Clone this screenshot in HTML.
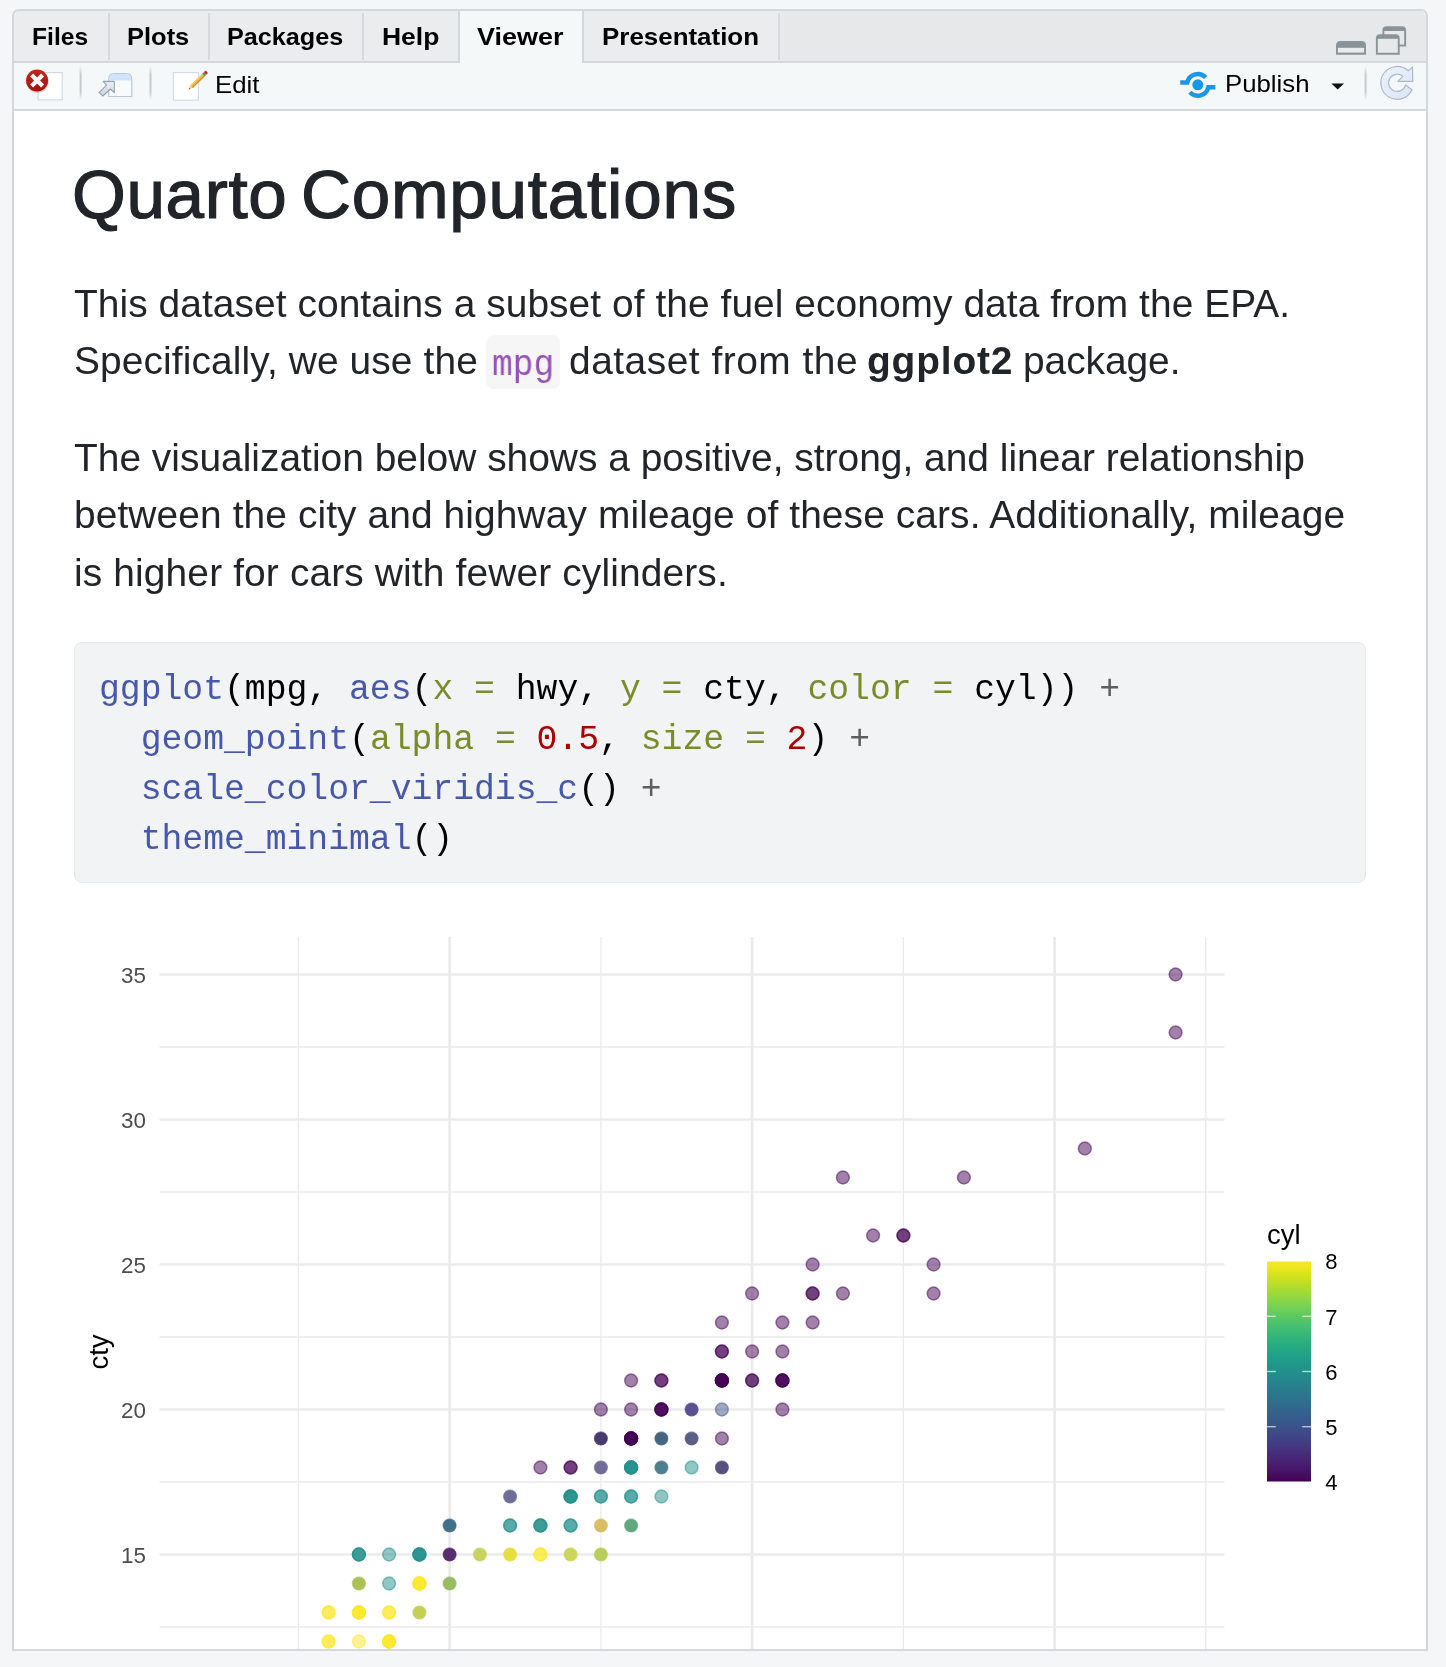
<!DOCTYPE html>
<html lang="en"><head><meta charset="utf-8"><title>Quarto Computations</title>
<style>
html,body{margin:0;padding:0}
body{width:1446px;height:1667px;background:#f5f6f8;position:relative;overflow:hidden;font-family:"Liberation Sans",sans-serif}
.frame{position:absolute;left:12px;top:9px;width:1416px;height:1642px;box-sizing:border-box;border:2px solid #d3d8db;border-radius:7px 7px 0 0;background:#fff;overflow:hidden}
.tabbar{position:absolute;left:14px;top:11px;width:1412px;height:50px;background:#e7e8ea;border-radius:5px 5px 0 0}
.tabline{position:absolute;left:14px;top:61px;width:1412px;height:2px;background:#d3d8db}
.tab{position:absolute;top:11px;height:50px;background:#ebecee;border-radius:5px 0 0 0}
.tsep{position:absolute;top:13px;width:2px;height:47px;background:#d5d9dc}
.tabsel{position:absolute;left:458px;top:11px;width:126px;height:52px;box-sizing:border-box;background:#f4f8f9;border-left:2px solid #d3d8db;border-right:2px solid #d3d8db}
.toolbar{position:absolute;left:14px;top:63px;width:1412px;height:46px;background:#f4f8f9}
.toolline{position:absolute;left:14px;top:109px;width:1412px;height:2px;background:#d3d8db}
.content{position:absolute;left:14px;top:111px;width:1412px;height:1538px;background:#fff;overflow:hidden}
.tx{position:absolute;white-space:nowrap;margin:0;padding:0;will-change:transform}
.icons{position:absolute;left:0;top:0}
.chartwrap{position:absolute;left:0;top:0;width:1446px;height:1649px;overflow:hidden;will-change:transform}
.chart{position:absolute;left:0;top:0}
.inlinecode{position:absolute;left:486px;top:335.2px;width:74px;height:53.4px;background:#f6f6f6;border-radius:8px}
.codebox{position:absolute;left:74px;top:641.5px;width:1292px;height:241px;box-sizing:border-box;background:#f2f3f5;border:1.5px solid #e6e8ea;border-radius:8px}
.cl{position:absolute;margin:0;padding:0;white-space:pre;will-change:transform;font-family:"Liberation Mono",monospace;font-size:34.72px;color:#000}
</style></head>
<body>
<div class="frame"></div>
<div class="tabbar"></div>
<div class="tab" style="left:14px;width:766px"></div>
<div class="tsep" style="left:108px"></div>
<div class="tsep" style="left:208px"></div>
<div class="tsep" style="left:362px"></div>
<div class="tsep" style="left:778px"></div>
<div class="tabline"></div>
<div class="tabsel"></div>
<div class="toolbar"></div>
<div class="toolline"></div>
<div class="content"></div>
<div class="inlinecode"></div>
<div class="chartwrap">
<svg class="chart" width="1446" height="1667" viewBox="0 0 1446 1667">
<line x1="159.5" x2="1224.5" y1="1047.0" y2="1047.0" stroke="#ebebeb" stroke-width="1.3"/>
<line x1="159.5" x2="1224.5" y1="1192.0" y2="1192.0" stroke="#ebebeb" stroke-width="1.3"/>
<line x1="159.5" x2="1224.5" y1="1337.0" y2="1337.0" stroke="#ebebeb" stroke-width="1.3"/>
<line x1="159.5" x2="1224.5" y1="1482.0" y2="1482.0" stroke="#ebebeb" stroke-width="1.3"/>
<line x1="159.5" x2="1224.5" y1="1627.0" y2="1627.0" stroke="#ebebeb" stroke-width="1.3"/>
<line y1="937" y2="1700" x1="298.4" x2="298.4" stroke="#ebebeb" stroke-width="1.3"/>
<line y1="937" y2="1700" x1="600.9" x2="600.9" stroke="#ebebeb" stroke-width="1.3"/>
<line y1="937" y2="1700" x1="903.4" x2="903.4" stroke="#ebebeb" stroke-width="1.3"/>
<line y1="937" y2="1700" x1="1205.8" x2="1205.8" stroke="#ebebeb" stroke-width="1.3"/>
<line x1="159.5" x2="1224.5" y1="974.5" y2="974.5" stroke="#ebebeb" stroke-width="2.7"/>
<line x1="159.5" x2="1224.5" y1="1119.5" y2="1119.5" stroke="#ebebeb" stroke-width="2.7"/>
<line x1="159.5" x2="1224.5" y1="1264.5" y2="1264.5" stroke="#ebebeb" stroke-width="2.7"/>
<line x1="159.5" x2="1224.5" y1="1409.5" y2="1409.5" stroke="#ebebeb" stroke-width="2.7"/>
<line x1="159.5" x2="1224.5" y1="1554.5" y2="1554.5" stroke="#ebebeb" stroke-width="2.7"/>
<line y1="937" y2="1700" x1="449.6" x2="449.6" stroke="#ebebeb" stroke-width="2.7"/>
<line y1="937" y2="1700" x1="752.1" x2="752.1" stroke="#ebebeb" stroke-width="2.7"/>
<line y1="937" y2="1700" x1="1054.6" x2="1054.6" stroke="#ebebeb" stroke-width="2.7"/>
<circle cx="1175.6" cy="974.5" r="6.4" fill="rgb(68,1,84)" fill-opacity="0.5" stroke="rgb(68,1,84)" stroke-opacity="0.5" stroke-width="1.5"/>
<circle cx="1175.6" cy="1032.5" r="6.4" fill="rgb(68,1,84)" fill-opacity="0.5" stroke="rgb(68,1,84)" stroke-opacity="0.5" stroke-width="1.5"/>
<circle cx="1084.8" cy="1148.5" r="6.4" fill="rgb(68,1,84)" fill-opacity="0.5" stroke="rgb(68,1,84)" stroke-opacity="0.5" stroke-width="1.5"/>
<circle cx="963.9" cy="1177.5" r="6.4" fill="rgb(68,1,84)" fill-opacity="0.5" stroke="rgb(68,1,84)" stroke-opacity="0.5" stroke-width="1.5"/>
<circle cx="842.9" cy="1177.5" r="6.4" fill="rgb(68,1,84)" fill-opacity="0.5" stroke="rgb(68,1,84)" stroke-opacity="0.5" stroke-width="1.5"/>
<circle cx="903.4" cy="1235.5" r="6.4" fill="rgb(68,1,84)" fill-opacity="0.5" stroke="rgb(68,1,84)" stroke-opacity="0.5" stroke-width="1.5"/>
<circle cx="903.4" cy="1235.5" r="6.4" fill="rgb(68,1,84)" fill-opacity="0.5" stroke="rgb(68,1,84)" stroke-opacity="0.5" stroke-width="1.5"/>
<circle cx="873.1" cy="1235.5" r="6.4" fill="rgb(68,1,84)" fill-opacity="0.5" stroke="rgb(68,1,84)" stroke-opacity="0.5" stroke-width="1.5"/>
<circle cx="933.6" cy="1264.5" r="6.4" fill="rgb(68,1,84)" fill-opacity="0.5" stroke="rgb(68,1,84)" stroke-opacity="0.5" stroke-width="1.5"/>
<circle cx="812.6" cy="1264.5" r="6.4" fill="rgb(68,1,84)" fill-opacity="0.5" stroke="rgb(68,1,84)" stroke-opacity="0.5" stroke-width="1.5"/>
<circle cx="933.6" cy="1293.5" r="6.4" fill="rgb(68,1,84)" fill-opacity="0.5" stroke="rgb(68,1,84)" stroke-opacity="0.5" stroke-width="1.5"/>
<circle cx="842.9" cy="1293.5" r="6.4" fill="rgb(68,1,84)" fill-opacity="0.5" stroke="rgb(68,1,84)" stroke-opacity="0.5" stroke-width="1.5"/>
<circle cx="812.6" cy="1293.5" r="6.4" fill="rgb(68,1,84)" fill-opacity="0.5" stroke="rgb(68,1,84)" stroke-opacity="0.5" stroke-width="1.5"/>
<circle cx="812.6" cy="1293.5" r="6.4" fill="rgb(68,1,84)" fill-opacity="0.5" stroke="rgb(68,1,84)" stroke-opacity="0.5" stroke-width="1.5"/>
<circle cx="752.1" cy="1293.5" r="6.4" fill="rgb(68,1,84)" fill-opacity="0.5" stroke="rgb(68,1,84)" stroke-opacity="0.5" stroke-width="1.5"/>
<circle cx="812.6" cy="1322.5" r="6.4" fill="rgb(68,1,84)" fill-opacity="0.5" stroke="rgb(68,1,84)" stroke-opacity="0.5" stroke-width="1.5"/>
<circle cx="782.4" cy="1322.5" r="6.4" fill="rgb(68,1,84)" fill-opacity="0.5" stroke="rgb(68,1,84)" stroke-opacity="0.5" stroke-width="1.5"/>
<circle cx="721.9" cy="1322.5" r="6.4" fill="rgb(68,1,84)" fill-opacity="0.5" stroke="rgb(68,1,84)" stroke-opacity="0.5" stroke-width="1.5"/>
<circle cx="782.4" cy="1351.5" r="6.4" fill="rgb(68,1,84)" fill-opacity="0.5" stroke="rgb(68,1,84)" stroke-opacity="0.5" stroke-width="1.5"/>
<circle cx="752.1" cy="1351.5" r="6.4" fill="rgb(68,1,84)" fill-opacity="0.5" stroke="rgb(68,1,84)" stroke-opacity="0.5" stroke-width="1.5"/>
<circle cx="721.9" cy="1351.5" r="6.4" fill="rgb(68,1,84)" fill-opacity="0.5" stroke="rgb(68,1,84)" stroke-opacity="0.5" stroke-width="1.5"/>
<circle cx="721.9" cy="1351.5" r="6.4" fill="rgb(68,1,84)" fill-opacity="0.5" stroke="rgb(68,1,84)" stroke-opacity="0.5" stroke-width="1.5"/>
<circle cx="782.4" cy="1380.5" r="6.4" fill="rgb(68,1,84)" fill-opacity="0.5" stroke="rgb(68,1,84)" stroke-opacity="0.5" stroke-width="1.5"/>
<circle cx="782.4" cy="1380.5" r="6.4" fill="rgb(68,1,84)" fill-opacity="0.5" stroke="rgb(68,1,84)" stroke-opacity="0.5" stroke-width="1.5"/>
<circle cx="782.4" cy="1380.5" r="6.4" fill="rgb(68,1,84)" fill-opacity="0.5" stroke="rgb(68,1,84)" stroke-opacity="0.5" stroke-width="1.5"/>
<circle cx="782.4" cy="1380.5" r="6.4" fill="rgb(68,1,84)" fill-opacity="0.5" stroke="rgb(68,1,84)" stroke-opacity="0.5" stroke-width="1.5"/>
<circle cx="752.1" cy="1380.5" r="6.4" fill="rgb(68,1,84)" fill-opacity="0.5" stroke="rgb(68,1,84)" stroke-opacity="0.5" stroke-width="1.5"/>
<circle cx="752.1" cy="1380.5" r="6.4" fill="rgb(68,1,84)" fill-opacity="0.5" stroke="rgb(68,1,84)" stroke-opacity="0.5" stroke-width="1.5"/>
<circle cx="721.9" cy="1380.5" r="6.4" fill="rgb(68,1,84)" fill-opacity="0.5" stroke="rgb(68,1,84)" stroke-opacity="0.5" stroke-width="1.5"/>
<circle cx="721.9" cy="1380.5" r="6.4" fill="rgb(68,1,84)" fill-opacity="0.5" stroke="rgb(68,1,84)" stroke-opacity="0.5" stroke-width="1.5"/>
<circle cx="721.9" cy="1380.5" r="6.4" fill="rgb(68,1,84)" fill-opacity="0.5" stroke="rgb(68,1,84)" stroke-opacity="0.5" stroke-width="1.5"/>
<circle cx="721.9" cy="1380.5" r="6.4" fill="rgb(68,1,84)" fill-opacity="0.5" stroke="rgb(68,1,84)" stroke-opacity="0.5" stroke-width="1.5"/>
<circle cx="721.9" cy="1380.5" r="6.4" fill="rgb(68,1,84)" fill-opacity="0.5" stroke="rgb(68,1,84)" stroke-opacity="0.5" stroke-width="1.5"/>
<circle cx="721.9" cy="1380.5" r="6.4" fill="rgb(68,1,84)" fill-opacity="0.5" stroke="rgb(68,1,84)" stroke-opacity="0.5" stroke-width="1.5"/>
<circle cx="661.4" cy="1380.5" r="6.4" fill="rgb(68,1,84)" fill-opacity="0.5" stroke="rgb(68,1,84)" stroke-opacity="0.5" stroke-width="1.5"/>
<circle cx="661.4" cy="1380.5" r="6.4" fill="rgb(68,1,84)" fill-opacity="0.5" stroke="rgb(68,1,84)" stroke-opacity="0.5" stroke-width="1.5"/>
<circle cx="631.1" cy="1380.5" r="6.4" fill="rgb(68,1,84)" fill-opacity="0.5" stroke="rgb(68,1,84)" stroke-opacity="0.5" stroke-width="1.5"/>
<circle cx="782.4" cy="1409.5" r="6.4" fill="rgb(68,1,84)" fill-opacity="0.5" stroke="rgb(68,1,84)" stroke-opacity="0.5" stroke-width="1.5"/>
<circle cx="721.9" cy="1409.5" r="6.4" fill="rgb(59,82,139)" fill-opacity="0.5" stroke="rgb(59,82,139)" stroke-opacity="0.5" stroke-width="1.5"/>
<circle cx="691.6" cy="1409.5" r="6.6" fill="#5a528f" stroke="#5a528f" stroke-opacity="0.55" stroke-width="1.1"/>
<circle cx="661.4" cy="1409.5" r="6.4" fill="rgb(68,1,84)" fill-opacity="0.5" stroke="rgb(68,1,84)" stroke-opacity="0.5" stroke-width="1.5"/>
<circle cx="661.4" cy="1409.5" r="6.4" fill="rgb(68,1,84)" fill-opacity="0.5" stroke="rgb(68,1,84)" stroke-opacity="0.5" stroke-width="1.5"/>
<circle cx="661.4" cy="1409.5" r="6.4" fill="rgb(68,1,84)" fill-opacity="0.5" stroke="rgb(68,1,84)" stroke-opacity="0.5" stroke-width="1.5"/>
<circle cx="661.4" cy="1409.5" r="6.4" fill="rgb(68,1,84)" fill-opacity="0.5" stroke="rgb(68,1,84)" stroke-opacity="0.5" stroke-width="1.5"/>
<circle cx="631.1" cy="1409.5" r="6.4" fill="rgb(68,1,84)" fill-opacity="0.5" stroke="rgb(68,1,84)" stroke-opacity="0.5" stroke-width="1.5"/>
<circle cx="600.9" cy="1409.5" r="6.4" fill="rgb(68,1,84)" fill-opacity="0.5" stroke="rgb(68,1,84)" stroke-opacity="0.5" stroke-width="1.5"/>
<circle cx="721.9" cy="1438.5" r="6.4" fill="rgb(68,1,84)" fill-opacity="0.5" stroke="rgb(68,1,84)" stroke-opacity="0.5" stroke-width="1.5"/>
<circle cx="691.6" cy="1438.5" r="6.6" fill="#5a6085" stroke="#5a6085" stroke-opacity="0.55" stroke-width="1.1"/>
<circle cx="661.4" cy="1438.5" r="6.6" fill="#466680" stroke="#466680" stroke-opacity="0.55" stroke-width="1.1"/>
<circle cx="631.1" cy="1438.5" r="6.4" fill="rgb(68,1,84)" fill-opacity="0.5" stroke="rgb(68,1,84)" stroke-opacity="0.5" stroke-width="1.5"/>
<circle cx="631.1" cy="1438.5" r="6.4" fill="rgb(68,1,84)" fill-opacity="0.5" stroke="rgb(68,1,84)" stroke-opacity="0.5" stroke-width="1.5"/>
<circle cx="631.1" cy="1438.5" r="6.4" fill="rgb(68,1,84)" fill-opacity="0.5" stroke="rgb(68,1,84)" stroke-opacity="0.5" stroke-width="1.5"/>
<circle cx="631.1" cy="1438.5" r="6.4" fill="rgb(68,1,84)" fill-opacity="0.5" stroke="rgb(68,1,84)" stroke-opacity="0.5" stroke-width="1.5"/>
<circle cx="631.1" cy="1438.5" r="6.4" fill="rgb(68,1,84)" fill-opacity="0.5" stroke="rgb(68,1,84)" stroke-opacity="0.5" stroke-width="1.5"/>
<circle cx="631.1" cy="1438.5" r="6.4" fill="rgb(68,1,84)" fill-opacity="0.5" stroke="rgb(68,1,84)" stroke-opacity="0.5" stroke-width="1.5"/>
<circle cx="600.9" cy="1438.5" r="6.6" fill="#4a3a6e" stroke="#4a3a6e" stroke-opacity="0.55" stroke-width="1.1"/>
<circle cx="721.9" cy="1467.5" r="6.6" fill="#5a5080" stroke="#5a5080" stroke-opacity="0.55" stroke-width="1.1"/>
<circle cx="691.6" cy="1467.5" r="6.4" fill="rgb(33,144,140)" fill-opacity="0.5" stroke="rgb(33,144,140)" stroke-opacity="0.5" stroke-width="1.5"/>
<circle cx="661.4" cy="1467.5" r="6.6" fill="#4f7f8c" stroke="#4f7f8c" stroke-opacity="0.55" stroke-width="1.1"/>
<circle cx="631.1" cy="1467.5" r="6.4" fill="rgb(33,144,140)" fill-opacity="0.5" stroke="rgb(33,144,140)" stroke-opacity="0.5" stroke-width="1.5"/>
<circle cx="631.1" cy="1467.5" r="6.4" fill="rgb(33,144,140)" fill-opacity="0.5" stroke="rgb(33,144,140)" stroke-opacity="0.5" stroke-width="1.5"/>
<circle cx="631.1" cy="1467.5" r="6.4" fill="rgb(33,144,140)" fill-opacity="0.5" stroke="rgb(33,144,140)" stroke-opacity="0.5" stroke-width="1.5"/>
<circle cx="631.1" cy="1467.5" r="6.4" fill="rgb(33,144,140)" fill-opacity="0.5" stroke="rgb(33,144,140)" stroke-opacity="0.5" stroke-width="1.5"/>
<circle cx="631.1" cy="1467.5" r="6.4" fill="rgb(33,144,140)" fill-opacity="0.5" stroke="rgb(33,144,140)" stroke-opacity="0.5" stroke-width="1.5"/>
<circle cx="600.9" cy="1467.5" r="6.6" fill="#706d97" stroke="#706d97" stroke-opacity="0.55" stroke-width="1.1"/>
<circle cx="570.6" cy="1467.5" r="6.4" fill="rgb(68,1,84)" fill-opacity="0.5" stroke="rgb(68,1,84)" stroke-opacity="0.5" stroke-width="1.5"/>
<circle cx="570.6" cy="1467.5" r="6.4" fill="rgb(68,1,84)" fill-opacity="0.5" stroke="rgb(68,1,84)" stroke-opacity="0.5" stroke-width="1.5"/>
<circle cx="540.4" cy="1467.5" r="6.4" fill="rgb(68,1,84)" fill-opacity="0.5" stroke="rgb(68,1,84)" stroke-opacity="0.5" stroke-width="1.5"/>
<circle cx="661.4" cy="1496.5" r="6.4" fill="rgb(33,144,140)" fill-opacity="0.5" stroke="rgb(33,144,140)" stroke-opacity="0.5" stroke-width="1.5"/>
<circle cx="631.1" cy="1496.5" r="6.4" fill="rgb(33,144,140)" fill-opacity="0.5" stroke="rgb(33,144,140)" stroke-opacity="0.5" stroke-width="1.5"/>
<circle cx="631.1" cy="1496.5" r="6.4" fill="rgb(33,144,140)" fill-opacity="0.5" stroke="rgb(33,144,140)" stroke-opacity="0.5" stroke-width="1.5"/>
<circle cx="600.9" cy="1496.5" r="6.4" fill="rgb(33,144,140)" fill-opacity="0.5" stroke="rgb(33,144,140)" stroke-opacity="0.5" stroke-width="1.5"/>
<circle cx="600.9" cy="1496.5" r="6.4" fill="rgb(33,144,140)" fill-opacity="0.5" stroke="rgb(33,144,140)" stroke-opacity="0.5" stroke-width="1.5"/>
<circle cx="570.6" cy="1496.5" r="6.4" fill="rgb(33,144,140)" fill-opacity="0.5" stroke="rgb(33,144,140)" stroke-opacity="0.5" stroke-width="1.5"/>
<circle cx="570.6" cy="1496.5" r="6.4" fill="rgb(33,144,140)" fill-opacity="0.5" stroke="rgb(33,144,140)" stroke-opacity="0.5" stroke-width="1.5"/>
<circle cx="570.6" cy="1496.5" r="6.4" fill="rgb(33,144,140)" fill-opacity="0.5" stroke="rgb(33,144,140)" stroke-opacity="0.5" stroke-width="1.5"/>
<circle cx="570.6" cy="1496.5" r="6.4" fill="rgb(33,144,140)" fill-opacity="0.5" stroke="rgb(33,144,140)" stroke-opacity="0.5" stroke-width="1.5"/>
<circle cx="510.1" cy="1496.5" r="6.6" fill="#6f6c97" stroke="#6f6c97" stroke-opacity="0.55" stroke-width="1.1"/>
<circle cx="631.1" cy="1525.5" r="6.6" fill="#62a87c" stroke="#62a87c" stroke-opacity="0.55" stroke-width="1.1"/>
<circle cx="600.9" cy="1525.5" r="6.6" fill="#d8bf63" stroke="#d8bf63" stroke-opacity="0.55" stroke-width="1.1"/>
<circle cx="570.6" cy="1525.5" r="6.4" fill="rgb(33,144,140)" fill-opacity="0.5" stroke="rgb(33,144,140)" stroke-opacity="0.5" stroke-width="1.5"/>
<circle cx="570.6" cy="1525.5" r="6.4" fill="rgb(33,144,140)" fill-opacity="0.5" stroke="rgb(33,144,140)" stroke-opacity="0.5" stroke-width="1.5"/>
<circle cx="540.4" cy="1525.5" r="6.4" fill="rgb(33,144,140)" fill-opacity="0.5" stroke="rgb(33,144,140)" stroke-opacity="0.5" stroke-width="1.5"/>
<circle cx="540.4" cy="1525.5" r="6.4" fill="rgb(33,144,140)" fill-opacity="0.5" stroke="rgb(33,144,140)" stroke-opacity="0.5" stroke-width="1.5"/>
<circle cx="540.4" cy="1525.5" r="6.4" fill="rgb(33,144,140)" fill-opacity="0.5" stroke="rgb(33,144,140)" stroke-opacity="0.5" stroke-width="1.5"/>
<circle cx="510.1" cy="1525.5" r="6.4" fill="rgb(33,144,140)" fill-opacity="0.5" stroke="rgb(33,144,140)" stroke-opacity="0.5" stroke-width="1.5"/>
<circle cx="510.1" cy="1525.5" r="6.4" fill="rgb(33,144,140)" fill-opacity="0.5" stroke="rgb(33,144,140)" stroke-opacity="0.5" stroke-width="1.5"/>
<circle cx="449.6" cy="1525.5" r="6.6" fill="#42708a" stroke="#42708a" stroke-opacity="0.55" stroke-width="1.1"/>
<circle cx="600.9" cy="1554.5" r="6.6" fill="#b9cf5c" stroke="#b9cf5c" stroke-opacity="0.55" stroke-width="1.1"/>
<circle cx="570.6" cy="1554.5" r="6.6" fill="#cdd65a" stroke="#cdd65a" stroke-opacity="0.55" stroke-width="1.1"/>
<circle cx="540.4" cy="1554.5" r="6.4" fill="rgb(253,231,37)" fill-opacity="0.5" stroke="rgb(253,231,37)" stroke-opacity="0.5" stroke-width="1.5"/>
<circle cx="540.4" cy="1554.5" r="6.4" fill="rgb(253,231,37)" fill-opacity="0.5" stroke="rgb(253,231,37)" stroke-opacity="0.5" stroke-width="1.5"/>
<circle cx="510.1" cy="1554.5" r="6.6" fill="#e5de3f" stroke="#e5de3f" stroke-opacity="0.55" stroke-width="1.1"/>
<circle cx="479.9" cy="1554.5" r="6.6" fill="#c9d45f" stroke="#c9d45f" stroke-opacity="0.55" stroke-width="1.1"/>
<circle cx="449.6" cy="1554.5" r="6.6" fill="#5a2d6e" stroke="#5a2d6e" stroke-opacity="0.55" stroke-width="1.1"/>
<circle cx="419.4" cy="1554.5" r="6.4" fill="rgb(33,144,140)" fill-opacity="0.5" stroke="rgb(33,144,140)" stroke-opacity="0.5" stroke-width="1.5"/>
<circle cx="419.4" cy="1554.5" r="6.4" fill="rgb(33,144,140)" fill-opacity="0.5" stroke="rgb(33,144,140)" stroke-opacity="0.5" stroke-width="1.5"/>
<circle cx="419.4" cy="1554.5" r="6.4" fill="rgb(33,144,140)" fill-opacity="0.5" stroke="rgb(33,144,140)" stroke-opacity="0.5" stroke-width="1.5"/>
<circle cx="419.4" cy="1554.5" r="6.4" fill="rgb(33,144,140)" fill-opacity="0.5" stroke="rgb(33,144,140)" stroke-opacity="0.5" stroke-width="1.5"/>
<circle cx="389.1" cy="1554.5" r="6.4" fill="rgb(33,144,140)" fill-opacity="0.5" stroke="rgb(33,144,140)" stroke-opacity="0.5" stroke-width="1.5"/>
<circle cx="358.9" cy="1554.5" r="6.4" fill="rgb(33,144,140)" fill-opacity="0.5" stroke="rgb(33,144,140)" stroke-opacity="0.5" stroke-width="1.5"/>
<circle cx="358.9" cy="1554.5" r="6.4" fill="rgb(33,144,140)" fill-opacity="0.5" stroke="rgb(33,144,140)" stroke-opacity="0.5" stroke-width="1.5"/>
<circle cx="358.9" cy="1554.5" r="6.4" fill="rgb(33,144,140)" fill-opacity="0.5" stroke="rgb(33,144,140)" stroke-opacity="0.5" stroke-width="1.5"/>
<circle cx="449.6" cy="1583.5" r="6.6" fill="#95bd62" stroke="#95bd62" stroke-opacity="0.55" stroke-width="1.1"/>
<circle cx="419.4" cy="1583.5" r="6.4" fill="rgb(253,231,37)" fill-opacity="0.5" stroke="rgb(253,231,37)" stroke-opacity="0.5" stroke-width="1.5"/>
<circle cx="419.4" cy="1583.5" r="6.4" fill="rgb(253,231,37)" fill-opacity="0.5" stroke="rgb(253,231,37)" stroke-opacity="0.5" stroke-width="1.5"/>
<circle cx="419.4" cy="1583.5" r="6.4" fill="rgb(253,231,37)" fill-opacity="0.5" stroke="rgb(253,231,37)" stroke-opacity="0.5" stroke-width="1.5"/>
<circle cx="419.4" cy="1583.5" r="6.4" fill="rgb(253,231,37)" fill-opacity="0.5" stroke="rgb(253,231,37)" stroke-opacity="0.5" stroke-width="1.5"/>
<circle cx="389.1" cy="1583.5" r="6.4" fill="rgb(33,144,140)" fill-opacity="0.5" stroke="rgb(33,144,140)" stroke-opacity="0.5" stroke-width="1.5"/>
<circle cx="358.9" cy="1583.5" r="6.6" fill="#a9c354" stroke="#a9c354" stroke-opacity="0.55" stroke-width="1.1"/>
<circle cx="419.4" cy="1612.5" r="6.6" fill="#c5cf55" stroke="#c5cf55" stroke-opacity="0.55" stroke-width="1.1"/>
<circle cx="389.1" cy="1612.5" r="6.4" fill="rgb(253,231,37)" fill-opacity="0.5" stroke="rgb(253,231,37)" stroke-opacity="0.5" stroke-width="1.5"/>
<circle cx="389.1" cy="1612.5" r="6.4" fill="rgb(253,231,37)" fill-opacity="0.5" stroke="rgb(253,231,37)" stroke-opacity="0.5" stroke-width="1.5"/>
<circle cx="358.9" cy="1612.5" r="6.4" fill="rgb(253,231,37)" fill-opacity="0.5" stroke="rgb(253,231,37)" stroke-opacity="0.5" stroke-width="1.5"/>
<circle cx="358.9" cy="1612.5" r="6.4" fill="rgb(253,231,37)" fill-opacity="0.5" stroke="rgb(253,231,37)" stroke-opacity="0.5" stroke-width="1.5"/>
<circle cx="358.9" cy="1612.5" r="6.4" fill="rgb(253,231,37)" fill-opacity="0.5" stroke="rgb(253,231,37)" stroke-opacity="0.5" stroke-width="1.5"/>
<circle cx="358.9" cy="1612.5" r="6.4" fill="rgb(253,231,37)" fill-opacity="0.5" stroke="rgb(253,231,37)" stroke-opacity="0.5" stroke-width="1.5"/>
<circle cx="328.6" cy="1612.5" r="6.4" fill="rgb(253,231,37)" fill-opacity="0.5" stroke="rgb(253,231,37)" stroke-opacity="0.5" stroke-width="1.5"/>
<circle cx="328.6" cy="1612.5" r="6.4" fill="rgb(253,231,37)" fill-opacity="0.5" stroke="rgb(253,231,37)" stroke-opacity="0.5" stroke-width="1.5"/>
<circle cx="389.1" cy="1641.5" r="6.4" fill="rgb(253,231,37)" fill-opacity="0.5" stroke="rgb(253,231,37)" stroke-opacity="0.5" stroke-width="1.5"/>
<circle cx="389.1" cy="1641.5" r="6.4" fill="rgb(253,231,37)" fill-opacity="0.5" stroke="rgb(253,231,37)" stroke-opacity="0.5" stroke-width="1.5"/>
<circle cx="389.1" cy="1641.5" r="6.4" fill="rgb(253,231,37)" fill-opacity="0.5" stroke="rgb(253,231,37)" stroke-opacity="0.5" stroke-width="1.5"/>
<circle cx="389.1" cy="1641.5" r="6.4" fill="rgb(253,231,37)" fill-opacity="0.5" stroke="rgb(253,231,37)" stroke-opacity="0.5" stroke-width="1.5"/>
<circle cx="358.9" cy="1641.5" r="6.4" fill="rgb(253,231,37)" fill-opacity="0.5" stroke="rgb(253,231,37)" stroke-opacity="0.5" stroke-width="1.5"/>
<circle cx="328.6" cy="1641.5" r="6.4" fill="rgb(253,231,37)" fill-opacity="0.5" stroke="rgb(253,231,37)" stroke-opacity="0.5" stroke-width="1.5"/>
<circle cx="328.6" cy="1641.5" r="6.4" fill="rgb(253,231,37)" fill-opacity="0.5" stroke="rgb(253,231,37)" stroke-opacity="0.5" stroke-width="1.5"/>
<circle cx="358.9" cy="1670.5" r="6.4" fill="rgb(253,231,37)" fill-opacity="0.5" stroke="rgb(253,231,37)" stroke-opacity="0.5" stroke-width="1.5"/>
<circle cx="358.9" cy="1670.5" r="6.4" fill="rgb(253,231,37)" fill-opacity="0.5" stroke="rgb(253,231,37)" stroke-opacity="0.5" stroke-width="1.5"/>
<circle cx="358.9" cy="1670.5" r="6.4" fill="rgb(253,231,37)" fill-opacity="0.5" stroke="rgb(253,231,37)" stroke-opacity="0.5" stroke-width="1.5"/>
<circle cx="358.9" cy="1670.5" r="6.4" fill="rgb(253,231,37)" fill-opacity="0.5" stroke="rgb(253,231,37)" stroke-opacity="0.5" stroke-width="1.5"/>
<circle cx="298.4" cy="1670.5" r="6.4" fill="rgb(253,231,37)" fill-opacity="0.5" stroke="rgb(253,231,37)" stroke-opacity="0.5" stroke-width="1.5"/>
<circle cx="298.4" cy="1670.5" r="6.4" fill="rgb(253,231,37)" fill-opacity="0.5" stroke="rgb(253,231,37)" stroke-opacity="0.5" stroke-width="1.5"/>
<circle cx="298.4" cy="1670.5" r="6.4" fill="rgb(253,231,37)" fill-opacity="0.5" stroke="rgb(253,231,37)" stroke-opacity="0.5" stroke-width="1.5"/>
<circle cx="328.6" cy="1670.5" r="6.4" fill="rgb(253,231,37)" fill-opacity="0.5" stroke="rgb(253,231,37)" stroke-opacity="0.5" stroke-width="1.5"/>
<circle cx="328.6" cy="1670.5" r="6.4" fill="rgb(253,231,37)" fill-opacity="0.5" stroke="rgb(253,231,37)" stroke-opacity="0.5" stroke-width="1.5"/>
<circle cx="268.1" cy="1670.5" r="6.4" fill="rgb(253,231,37)" fill-opacity="0.5" stroke="rgb(253,231,37)" stroke-opacity="0.5" stroke-width="1.5"/>
<text x="146" y="983.4" text-anchor="end" font-family="'Liberation Sans', sans-serif" font-size="22.4" fill="#4d4d4d">35</text>
<text x="146" y="1128.4" text-anchor="end" font-family="'Liberation Sans', sans-serif" font-size="22.4" fill="#4d4d4d">30</text>
<text x="146" y="1273.4" text-anchor="end" font-family="'Liberation Sans', sans-serif" font-size="22.4" fill="#4d4d4d">25</text>
<text x="146" y="1418.4" text-anchor="end" font-family="'Liberation Sans', sans-serif" font-size="22.4" fill="#4d4d4d">20</text>
<text x="146" y="1563.4" text-anchor="end" font-family="'Liberation Sans', sans-serif" font-size="22.4" fill="#4d4d4d">15</text>
<text transform="translate(108.4,1352) rotate(-90)" text-anchor="middle" font-family="'Liberation Sans', sans-serif" font-size="27.5" fill="#000">cty</text>
<defs><linearGradient id="vir" x1="0" y1="1" x2="0" y2="0">
<stop offset="0.0000" stop-color="#440154"/>
<stop offset="0.0526" stop-color="#481567"/>
<stop offset="0.1053" stop-color="#482677"/>
<stop offset="0.1579" stop-color="#453781"/>
<stop offset="0.2105" stop-color="#404788"/>
<stop offset="0.2632" stop-color="#39568C"/>
<stop offset="0.3158" stop-color="#33638D"/>
<stop offset="0.3684" stop-color="#2D708E"/>
<stop offset="0.4211" stop-color="#287D8E"/>
<stop offset="0.4737" stop-color="#238A8D"/>
<stop offset="0.5263" stop-color="#1F968B"/>
<stop offset="0.5789" stop-color="#20A387"/>
<stop offset="0.6316" stop-color="#29AF7F"/>
<stop offset="0.6842" stop-color="#3CBB75"/>
<stop offset="0.7368" stop-color="#55C667"/>
<stop offset="0.7895" stop-color="#73D055"/>
<stop offset="0.8421" stop-color="#95D840"/>
<stop offset="0.8947" stop-color="#B8DE29"/>
<stop offset="0.9474" stop-color="#DCE319"/>
<stop offset="1.0000" stop-color="#FDE725"/>
</linearGradient></defs>
<rect x="1267" y="1261.5" width="44" height="220" fill="url(#vir)"/>
<line x1="1267" x2="1275.8" y1="1316.3" y2="1316.3" stroke="#fff" stroke-opacity="0.7" stroke-width="1.3"/>
<line x1="1302.2" x2="1311" y1="1316.3" y2="1316.3" stroke="#fff" stroke-opacity="0.7" stroke-width="1.3"/>
<line x1="1267" x2="1275.8" y1="1371.5" y2="1371.5" stroke="#fff" stroke-opacity="0.7" stroke-width="1.3"/>
<line x1="1302.2" x2="1311" y1="1371.5" y2="1371.5" stroke="#fff" stroke-opacity="0.7" stroke-width="1.3"/>
<line x1="1267" x2="1275.8" y1="1426.7" y2="1426.7" stroke="#fff" stroke-opacity="0.7" stroke-width="1.3"/>
<line x1="1302.2" x2="1311" y1="1426.7" y2="1426.7" stroke="#fff" stroke-opacity="0.7" stroke-width="1.3"/>
<text x="1325.3" y="1269.0" font-family="'Liberation Sans', sans-serif" font-size="22" fill="#000">8</text>
<text x="1325.3" y="1325.2" font-family="'Liberation Sans', sans-serif" font-size="22" fill="#000">7</text>
<text x="1325.3" y="1380.0" font-family="'Liberation Sans', sans-serif" font-size="22" fill="#000">6</text>
<text x="1325.3" y="1435.3" font-family="'Liberation Sans', sans-serif" font-size="22" fill="#000">5</text>
<text x="1325.3" y="1490.3" font-family="'Liberation Sans', sans-serif" font-size="22" fill="#000">4</text>
<text x="1267" y="1243.8" font-family="'Liberation Sans', sans-serif" font-size="27.5" fill="#000">cyl</text>
</svg>
</div>
<svg class="icons" width="1446" height="120" viewBox="0 0 1446 120">
<defs>
<linearGradient id="sepg" x1="0" y1="0" x2="0" y2="1"><stop offset="0" stop-color="#c5cacd" stop-opacity="0"/><stop offset="0.25" stop-color="#c5cacd"/><stop offset="0.75" stop-color="#c5cacd"/><stop offset="1" stop-color="#c5cacd" stop-opacity="0"/></linearGradient>
<linearGradient id="redg" x1="0" y1="0" x2="0" y2="1"><stop offset="0" stop-color="#c3261a"/><stop offset="1" stop-color="#a3120b"/></linearGradient>
<linearGradient id="refg" x1="0" y1="0" x2="1" y2="1"><stop offset="0" stop-color="#eef3fb"/><stop offset="1" stop-color="#d9e5f7"/></linearGradient>
<linearGradient id="arrg" x1="0" y1="0" x2="0" y2="1"><stop offset="0" stop-color="#eceef1"/><stop offset="1" stop-color="#cfd5db"/></linearGradient>
</defs>
<rect x="79.6" y="66" width="2" height="34" fill="url(#sepg)"/>
<rect x="149.5" y="66" width="2" height="34" fill="url(#sepg)"/>
<rect x="1364.6" y="66" width="2" height="34" fill="url(#sepg)"/>
<rect x="38" y="72.6" width="24.3" height="27.2" fill="#fff" stroke="#d3dce6" stroke-width="1.2"/>
<ellipse cx="37.6" cy="82.2" rx="11.2" ry="10.8" fill="#5a6a78" fill-opacity="0.28"/><circle cx="37.1" cy="80.5" r="11" fill="url(#redg)"/>
<path d="M31.6 75.1 L42.6 86.1 M42.6 75.1 L31.6 86.1" stroke="#fff" stroke-width="4.3" stroke-linecap="butt"/>
<path d="M108.8 79 q0 -5.5 5.5 -5.5 h12 q5.5 0 5.5 5.5 v17.5 h-23 z" fill="#f8fafc" stroke="#b9c7d6" stroke-width="1.2"/>
<path d="M109.4 80.5 v-1.5 q0 -4.9 4.9 -4.9 h12 q4.9 0 4.9 4.9 v1.5 z" fill="#cfe4fa"/>
<path d="M114.3 81.4 L103.2 81.4 L106.6 85.2 L99.2 92.4 L102.8 96 L110.4 89 L114.3 92.6 Z" fill="url(#arrg)" stroke="#8fa3b3" stroke-width="1.1" stroke-linejoin="round"/>
<rect x="173.4" y="72.6" width="25" height="27.6" fill="#fff" stroke="#d3dce6" stroke-width="1.2"/>
<g transform="translate(188.6,89.6) rotate(-44.5)"><path d="M0 0 L4.2 -1.8 L4.2 1.8 Z" fill="#e8cf9b"/><path d="M0 0 L1.6 -0.7 L1.6 0.7 Z" fill="#444"/><rect x="4.2" y="-1.8" width="16.6" height="3.6" fill="#edb53c"/><rect x="4.2" y="-1.8" width="16.6" height="1.1" fill="#f5d375"/><rect x="4.2" y="0.8" width="16.6" height="1.0" fill="#c98f1f"/><rect x="20.8" y="-1.8" width="2.2" height="3.6" fill="#4f9c45"/><rect x="23" y="-1.8" width="2.6" height="3.6" rx="1" fill="#c9252c"/></g>
<g fill="none" stroke="#1a97e6" stroke-width="4.4"><path d="M1180.2 82.5 H1187.3 A10.7 10.7 0 0 1 1205.7 77.5"/><path d="M1215.4 87.2 H1208.3 A10.7 10.7 0 0 1 1189.9 92.1"/></g>
<circle cx="1197.8" cy="84.8" r="5.5" fill="#1a97e6"/>
<path d="M1331.4 83.4 H1344 L1337.7 89.6 Z" fill="#111"/>
<path d="M1412.4 66.9 L1408.4 70.9 A16.4 16.4 0 1 0 1412.06 89.83 L1405.5 85.05 A8.6 8.6 0 1 1 1402.9 76.4 L1397.9 81.4 L1412.8 81.4 Z" fill="url(#refg)" stroke="#aeb9c8" stroke-width="1.2" stroke-linejoin="round"/>
<path d="M1336 54.8 V45.6 q0 -4.5 4.5 -4.5 h21 q4.5 0 4.5 4.5 V54.8 Z" fill="#8a9398"/>
<rect x="1337.9" y="47.8" width="26.2" height="4.8" fill="#e9eaec"/>
<path d="M1382.4 46.6 V30.4 q0 -4.2 4.2 -4.2 h15.3 q4.2 0 4.2 4.2 V46.6 Z" fill="#8a9398"/>
<rect x="1384.3" y="31" width="19.9" height="13.6" fill="#e7e8ea"/>
<path d="M1375.9 54.8 V38.4 q0 -4.2 4.2 -4.2 h15.4 q4.2 0 4.2 4.2 V54.8 Z" fill="#8a9398"/>
<rect x="1377.8" y="38.8" width="20" height="14" fill="#e7e8ea"/>
</svg>
<div class="codebox"></div>
<pre class="cl" style="left:99.3px;top:665.25px;height:50px;line-height:50px"><span style="color:#4758ab">ggplot</span>(mpg, <span style="color:#4758ab">aes</span>(<span style="color:#7a8b2a">x =</span> hwy, <span style="color:#7a8b2a">y =</span> cty, <span style="color:#7a8b2a">color =</span> cyl)) <span style="color:#5e5e5e">+</span></pre>
<pre class="cl" style="left:99.3px;top:715.05px;height:50px;line-height:50px">  <span style="color:#4758ab">geom_point</span>(<span style="color:#7a8b2a">alpha =</span> <span style="color:#ad0000">0.5</span>, <span style="color:#7a8b2a">size =</span> <span style="color:#ad0000">2</span>) <span style="color:#5e5e5e">+</span></pre>
<pre class="cl" style="left:99.3px;top:764.85px;height:50px;line-height:50px">  <span style="color:#4758ab">scale_color_viridis_c</span>() <span style="color:#5e5e5e">+</span></pre>
<pre class="cl" style="left:99.3px;top:814.65px;height:50px;line-height:50px">  <span style="color:#4758ab">theme_minimal</span>()</pre>
<div id="t0" class="tx" style="left:32.49px;top:20.98px;height:31px;line-height:31px;font-family:'Liberation Sans', sans-serif;font-size:24px;font-weight:bold;color:#000;letter-spacing:0.000px;transform:scaleX(1.0258);transform-origin:0 0;">Files</div>
<div id="t1" class="tx" style="left:126.85px;top:20.98px;height:31px;line-height:31px;font-family:'Liberation Sans', sans-serif;font-size:24px;font-weight:bold;color:#000;letter-spacing:0.000px;transform:scaleX(1.0614);transform-origin:0 0;">Plots</div>
<div id="t2" class="tx" style="left:226.87px;top:20.98px;height:31px;line-height:31px;font-family:'Liberation Sans', sans-serif;font-size:24px;font-weight:bold;color:#000;letter-spacing:0.000px;transform:scaleX(1.0497);transform-origin:0 0;">Packages</div>
<div id="t3" class="tx" style="left:381.81px;top:20.98px;height:31px;line-height:31px;font-family:'Liberation Sans', sans-serif;font-size:24px;font-weight:bold;color:#000;letter-spacing:0.000px;transform:scaleX(1.1032);transform-origin:0 0;">Help</div>
<div id="t4" class="tx" style="left:476.79px;top:20.98px;height:31px;line-height:31px;font-family:'Liberation Sans', sans-serif;font-size:24px;font-weight:bold;color:#000;letter-spacing:0.000px;transform:scaleX(1.1231);transform-origin:0 0;">Viewer</div>
<div id="t5" class="tx" style="left:601.83px;top:20.98px;height:31px;line-height:31px;font-family:'Liberation Sans', sans-serif;font-size:24px;font-weight:bold;color:#000;letter-spacing:0.000px;transform:scaleX(1.0802);transform-origin:0 0;">Presentation</div>
<div id="t6" class="tx" style="left:215.04px;top:68.71px;height:32px;line-height:32px;font-family:'Liberation Sans', sans-serif;font-size:24.5px;font-weight:normal;color:#000;letter-spacing:0.000px;transform:scaleX(1.0546);transform-origin:0 0;">Edit</div>
<div id="t7" class="tx" style="left:1224.64px;top:68.11px;height:32px;line-height:32px;font-family:'Liberation Sans', sans-serif;font-size:24.5px;font-weight:normal;color:#000;letter-spacing:0.000px;transform:scaleX(1.0518);transform-origin:0 0;">Publish</div>
<div id="t8" class="tx" style="left:72.39px;top:149.42px;height:90px;line-height:90px;font-family:'Liberation Sans', sans-serif;font-size:69.2px;font-weight:normal;color:#212529;letter-spacing:0.642px;-webkit-text-stroke:1.2px #212529;">Quarto</div>
<div id="t9" class="tx" style="left:300.89px;top:149.42px;height:90px;line-height:90px;font-family:'Liberation Sans', sans-serif;font-size:69.2px;font-weight:normal;color:#212529;letter-spacing:0.758px;-webkit-text-stroke:1.2px #212529;">Computations</div>
<div id="t10" class="tx" style="left:73.65px;top:277.92px;height:51px;line-height:51px;font-family:'Liberation Sans', sans-serif;font-size:38.9px;font-weight:normal;color:#212529;letter-spacing:0.060px;">This dataset contains a subset of the fuel economy data from the EPA.</div>
<div id="t11" class="tx" style="left:73.65px;top:335.22px;height:51px;line-height:51px;font-family:'Liberation Sans', sans-serif;font-size:38.9px;font-weight:normal;color:#212529;letter-spacing:0.106px;">Specifically, we use the</div>
<div id="t12" class="tx" style="left:491.75px;top:341.51px;height:47px;line-height:47px;font-family:'Liberation Mono', monospace;font-size:36px;font-weight:normal;color:#9551b8;letter-spacing:0.000px;transform:scaleX(0.9598);transform-origin:0 0;">mpg</div>
<div id="t13" class="tx" style="left:569.35px;top:335.22px;height:51px;line-height:51px;font-family:'Liberation Sans', sans-serif;font-size:38.9px;font-weight:normal;color:#212529;letter-spacing:0.505px;">dataset from the</div>
<div id="t14" class="tx" style="left:866.65px;top:335.22px;height:51px;line-height:51px;font-family:'Liberation Sans', sans-serif;font-size:38.9px;font-weight:bold;color:#212529;letter-spacing:0.830px;">ggplot2</div>
<div id="t15" class="tx" style="left:1022.75px;top:335.22px;height:51px;line-height:51px;font-family:'Liberation Sans', sans-serif;font-size:38.9px;font-weight:normal;color:#212529;letter-spacing:-0.049px;">package.</div>
<div id="t16" class="tx" style="left:73.65px;top:432.02px;height:51px;line-height:51px;font-family:'Liberation Sans', sans-serif;font-size:38.9px;font-weight:normal;color:#212529;letter-spacing:0.010px;">The visualization below shows a positive, strong, and linear relationship</div>
<div id="t17" class="tx" style="left:74.45px;top:489.42px;height:51px;line-height:51px;font-family:'Liberation Sans', sans-serif;font-size:38.9px;font-weight:normal;color:#212529;letter-spacing:0.099px;">between the city and highway mileage of these cars. Additionally, mileage</div>
<div id="t18" class="tx" style="left:74.05px;top:546.82px;height:51px;line-height:51px;font-family:'Liberation Sans', sans-serif;font-size:38.9px;font-weight:normal;color:#212529;letter-spacing:0.136px;">is higher for cars with fewer cylinders.</div>
</body></html>
